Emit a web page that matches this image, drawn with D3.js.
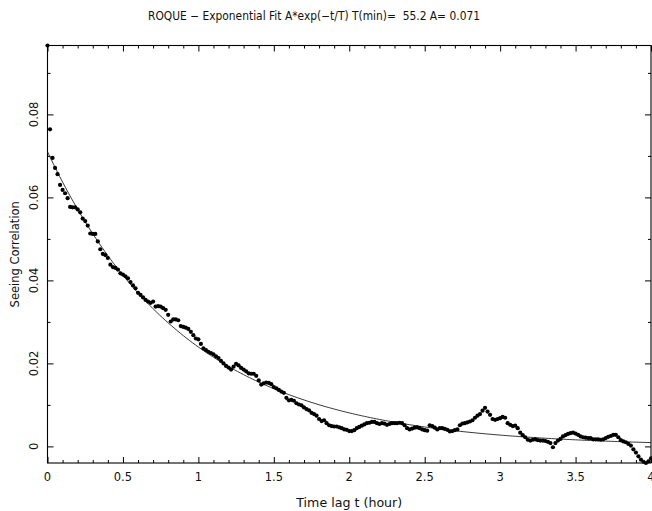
<!DOCTYPE html>
<html>
<head>
<meta charset="utf-8">
<script src="https://cdn.jsdelivr.net/npm/d3@7"></script>
<style>
  body { margin: 0; background: #fff; }
  text { font-family: "DejaVu Sans", sans-serif; fill: #111; }
</style>
</head>
<body>
<div id="canvas"></div>
<script>
var width = 652;
var height = 511;
var margin = { top: 45.5, right: 1, bottom: 48, left: 47.5 };

// fit parameters, read from the title
var fitA = 0.071;
var fitTmin = 55.2;

// sampling step of the time lag (minutes)
var lagStepMin = 1;

// seeing correlation, one value per minute of lag, t = 0 .. 4 h
var corr = [
    0.0966, 0.0764, 0.0695, 0.0671, 0.0656, 0.0630, 0.0618, 0.0610, 0.0598, 0.0577,
    0.0576, 0.0576, 0.0571, 0.0564, 0.0549, 0.0543, 0.0532, 0.0513, 0.0512, 0.0512,
    0.0494, 0.0475, 0.0464, 0.0461, 0.0454, 0.0438, 0.0432, 0.0430, 0.0426, 0.0417,
    0.0414, 0.0410, 0.0405, 0.0396, 0.0388, 0.0381, 0.0370, 0.0365, 0.0359, 0.0353,
    0.0349, 0.0346, 0.0349, 0.0337, 0.0338, 0.0337, 0.0333, 0.0329, 0.0317, 0.0301,
    0.0306, 0.0306, 0.0304, 0.0290, 0.0288, 0.0286, 0.0283, 0.0276, 0.0268, 0.0260,
    0.0258, 0.0247, 0.0236, 0.0232, 0.0228, 0.0225, 0.0222, 0.0217, 0.0213, 0.0206,
    0.0200, 0.0194, 0.0190, 0.0185, 0.0192, 0.0199, 0.0195, 0.0189, 0.0185, 0.0181,
    0.0176, 0.0175, 0.0175, 0.0170, 0.0159, 0.0149, 0.0152, 0.0154, 0.0153, 0.0150,
    0.0143, 0.0140, 0.0136, 0.0132, 0.0129, 0.0117, 0.0111, 0.0112, 0.0110, 0.0104,
    0.0101, 0.0099, 0.0094, 0.0090, 0.0087, 0.0081, 0.0078, 0.0074, 0.0066, 0.0061,
    0.0063, 0.0056, 0.0051, 0.0049, 0.0048, 0.0048, 0.0046, 0.0044, 0.0041, 0.0040,
    0.0037, 0.0037, 0.0039, 0.0044, 0.0047, 0.0050, 0.0053, 0.0056, 0.0057, 0.0059,
    0.0059, 0.0056, 0.0054, 0.0056, 0.0055, 0.0052, 0.0054, 0.0056, 0.0056, 0.0056,
    0.0057, 0.0056, 0.0051, 0.0044, 0.0041, 0.0043, 0.0045, 0.0046, 0.0044, 0.0041,
    0.0039, 0.0038, 0.0051, 0.0049, 0.0045, 0.0041, 0.0044, 0.0044, 0.0042, 0.0040,
    0.0036, 0.0037, 0.0039, 0.0041, 0.0051, 0.0055, 0.0056, 0.0058, 0.0060, 0.0063,
    0.0069, 0.0074, 0.0078, 0.0086, 0.0093, 0.0084, 0.0076, 0.0066, 0.0064, 0.0066,
    0.0068, 0.0071, 0.0069, 0.0056, 0.0052, 0.0049, 0.0050, 0.0044, 0.0033, 0.0027,
    0.0022, 0.0016, 0.0014, 0.0016, 0.0017, 0.0015, 0.0014, 0.0014, 0.0013, 0.0011,
    0.0008, -0.0002, 0.0008, 0.0014, 0.0018, 0.0024, 0.0027, 0.0030, 0.0032, 0.0033,
    0.0031, 0.0028, 0.0024, 0.0022, 0.0021, 0.0020, 0.0020, 0.0017, 0.0017, 0.0017,
    0.0016, 0.0017, 0.0020, 0.0023, 0.0025, 0.0028, 0.0028, 0.0022, 0.0015, 0.0012,
    0.0010, 0.0006, 0.0002, -0.0007, -0.0015, -0.0024, -0.0032, -0.0037, -0.0040, -0.0036,
    -0.0029
];

var xMajor = [0, 0.5, 1, 1.5, 2, 2.5, 3, 3.5, 4];
var xMinor = [0.1, 0.2, 0.3, 0.4, 0.6, 0.7, 0.8, 0.9, 1.1, 1.2, 1.3, 1.4, 1.6, 1.7, 1.8, 1.9,
              2.1, 2.2, 2.3, 2.4, 2.6, 2.7, 2.8, 2.9, 3.1, 3.2, 3.3, 3.4, 3.6, 3.7, 3.8, 3.9];
var xLabels = ["0", "0.5", "1", "1.5", "2", "2.5", "3", "3.5", "4"];
var yMajor = [0, 0.02, 0.04, 0.06, 0.08];
var yMinor = [0.01, 0.03, 0.05, 0.07, 0.09];
var yLabels = ["0", "0.02", "0.04", "0.06", "0.08"];

var plotW = width - margin.left - margin.right;
var plotH = height - margin.top - margin.bottom;

var svg = d3.select("#canvas")
    .append("svg")
    .attr("width", width)
    .attr("height", height);

var canvas = svg.append("g")
    .attr("transform", "translate(" + margin.left + "," + margin.top + ")");

var xScale = d3.scaleLinear()
    .domain([0, 4])
    .range([0, plotW]);

var yScale = d3.scaleLinear()
    .domain([-0.004, 0.0966])
    .range([plotH, 0]);

// frame
canvas.append("rect")
    .attr("x", 0)
    .attr("y", 0)
    .attr("width", plotW)
    .attr("height", plotH)
    .attr("fill", "none")
    .attr("stroke", "#000")
    .attr("stroke-width", 1.1);

function tickAxis(axis, values, size, transform) {
    var g = canvas.append("g")
        .attr("transform", transform)
        .call(axis.tickValues(values).tickSize(-size).tickSizeOuter(0).tickFormat(""));
    g.select(".domain").remove();
    g.selectAll("line").attr("stroke", "#000");
    return g;
}

// inward ticks on all four sides
tickAxis(d3.axisBottom(xScale), xMajor, 6, "translate(0," + plotH + ")");
tickAxis(d3.axisBottom(xScale), xMinor, 3, "translate(0," + plotH + ")");
tickAxis(d3.axisTop(xScale), xMajor, 6, "translate(0,0)");
tickAxis(d3.axisTop(xScale), xMinor, 3, "translate(0,0)");
tickAxis(d3.axisLeft(yScale), yMajor, 6, "translate(0,0)");
tickAxis(d3.axisLeft(yScale), yMinor, 3, "translate(0,0)");
tickAxis(d3.axisRight(yScale), yMajor, 6, "translate(" + plotW + ",0)");
tickAxis(d3.axisRight(yScale), yMinor, 3, "translate(" + plotW + ",0)");

// x tick labels (the last one runs off the edge, as in the original)
canvas.selectAll(".xlab")
    .data(xMajor)
    .enter().append("text")
    .attr("class", "xlab")
    .attr("x", d => xScale(d))
    .attr("y", plotH + 18)
    .attr("text-anchor", "middle")
    .attr("font-size", "11.5px")
    .text((d, i) => xLabels[i]);

// y tick labels, rotated like the original
canvas.selectAll(".ylab")
    .data(yMajor)
    .enter().append("text")
    .attr("class", "ylab")
    .attr("transform", d => "translate(-10," + yScale(d) + ") rotate(-90)")
    .attr("text-anchor", "middle")
    .attr("font-size", "11.5px")
    .text((d, i) => yLabels[i]);

// titles
svg.append("text")
    .attr("x", 148)
    .attr("y", 20)
    .attr("font-size", "11.5px")
    .attr("textLength", 332)
    .attr("lengthAdjust", "spacingAndGlyphs")
    .style("white-space", "pre")
    .text("ROQUE \u2212 Exponential Fit A*exp(\u2212t/T) T(min)=  55.2 A= 0.071");

svg.append("text")
    .attr("x", margin.left + plotW / 2)
    .attr("y", 507)
    .attr("text-anchor", "middle")
    .attr("font-size", "12px")
    .attr("textLength", 106)
    .attr("lengthAdjust", "spacingAndGlyphs")
    .text("Time lag t (hour)");

svg.append("text")
    .attr("transform", "translate(19," + (margin.top + plotH / 2) + ") rotate(-90)")
    .attr("text-anchor", "middle")
    .attr("font-size", "11.5px")
    .text("Seeing Correlation");

// exponential fit curve A*exp(-t/T)
var fitT = d3.range(0, 4.0001, 0.02);
var fitLine = d3.line()
    .x(t => xScale(t))
    .y(t => yScale(fitA * Math.exp(-t * 60 / fitTmin)));

canvas.append("path")
    .datum(fitT)
    .attr("d", fitLine)
    .attr("fill", "none")
    .attr("stroke", "#222")
    .attr("stroke-width", 0.9);

// data points
canvas.selectAll(".pt")
    .data(corr)
    .enter().append("circle")
    .attr("class", "pt")
    .attr("cx", (d, i) => xScale(i * lagStepMin / 60))
    .attr("cy", d => yScale(d))
    .attr("r", 2.1)
    .attr("fill", "#000");
</script>
</body>
</html>
